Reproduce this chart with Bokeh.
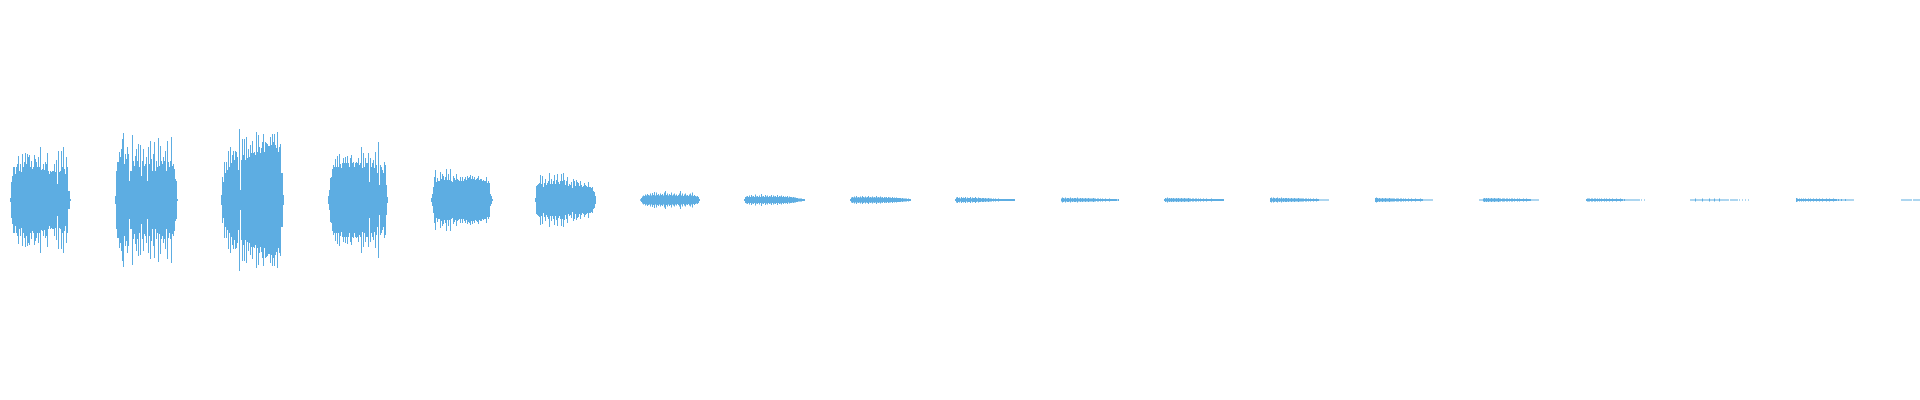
from bokeh.plotting import figure
from bokeh.models import Range1d, ColumnDataSource
from bokeh.embed import file_html
from bokeh.resources import INLINE

# onset (sample column) of each burst
burst_onsets = [2, 107, 213, 320, 423, 527, 632, 736, 842, 947, 1053, 1156, 1262, 1367, 1471, 1578, 1682, 1788, 1893]

# per-column peak amplitude of each burst
b1 = [2,18,24,33,33,26,33,36,44,29,36,28,46,33,38,47,36,46,43,45,33,39,31,33,45,41,38,33,43,33,53,30,31,36,30,38,36,47,29,26,29,28,29,29,36,28,40,16,49,28,29,49,33,53,31,26,43,33,9,9,1]
b2 = [4,29,38,38,48,43,51,61,67,36,46,41,53,46,19,29,29,65,39,34,44,51,39,56,33,55,24,39,51,34,36,43,19,53,36,59,41,29,46,58,29,39,33,62,34,54,39,36,43,39,49,29,59,38,33,39,63,34,36,31,21,19,1]
b3 = [5,23,18,38,27,38,30,49,33,53,37,45,49,40,49,48,43,30,71,10,40,61,45,61,40,63,42,51,43,55,47,59,47,48,45,68,48,65,53,47,52,58,66,48,58,57,56,54,54,63,55,66,58,66,55,52,68,48,53,56,27,27,5]
b4 = [4,10,22,23,31,35,33,41,33,44,33,46,36,32,37,42,37,43,37,44,37,33,42,45,37,38,33,37,38,37,42,35,37,53,32,47,33,42,37,37,47,18,42,33,37,40,32,48,35,27,58,15,35,33,30,27,38,35,15,3]
b5 = [2,6,13,23,30,18,22,19,19,28,21,26,24,20,23,31,20,26,20,31,19,18,24,22,20,26,21,20,19,23,19,23,19,21,23,20,24,22,23,25,21,24,21,23,20,21,22,24,20,21,21,19,20,19,19,23,17,19,17,6,4,1]
b6 = [2,14,15,16,17,25,16,24,13,17,21,15,17,19,27,16,21,16,19,25,16,20,26,18,16,19,26,19,27,20,15,19,23,14,16,15,18,12,21,19,14,20,18,17,14,19,15,13,14,17,15,14,13,18,13,13,12,13,9,8,4]
b7 = [0.7,2,3.5,4.5,4,5.5,4.5,6,5,4.5,6.5,4.5,7,5,8,4.5,7.5,5,6,4.5,6.5,5,6,4.5,7.5,9,5,6.5,4.5,6,5,7.5,4.5,5.5,6.5,4.5,5.5,4,5,6.5,9,4.5,6.5,4,5.5,6.5,4.5,5,4,5.5,6.5,4.5,7.5,4,5,4,3.5,4,3,1]
b8 = [1,3,3.5,4,3,4.5,3,5,3.5,4,3,5.5,3.5,4,3,4.5,3,6,3.5,4,3,5,3.5,4.5,3,4,3.5,5,3,4.5,3.5,4,3,5,3,4,3.5,4.5,3,4,3,3.5,3,4,2.5,3.5,3,3,2.5,3,2.5,2.5,2,2,1.5,1.5,1.5,1.5,1,1,1]
b9 = [1,2.5,3,2.5,3.5,2.5,4,2.5,3,2.5,3.5,2.5,4,3,2.5,3.5,2.5,3,4,2.5,3,2.5,3.5,2.5,3,2.5,4,2.5,3,2.5,3.5,2.5,3,2,3,2.5,3,2,3,2.5,2.5,2,3,2,2.5,2,2.5,2,2,2,2,1.5,2,1.5,1.5,1.5,1.5,1,1.5,1,1]
b10 = [1,2.5,3,2,2.5,1.5,3,2,2.5,2,3,1.5,2.5,2,2,3,1.5,2.5,2,2,3,2,1.5,2.5,2,2,1.5,2,2,1.5,2,1.5,1.5,2,1.5,1.5,1.5,1,1.5,1,1.5,1,1,1.5,1,1,1,1,1,1,1,1,1,1,1,1,1,1,1,1]
b11 = [1.5,2.5,2,1.5,2.5,1.5,2,2,1.5,2.5,1.5,2,1.5,2,2,1.5,2.5,1.5,1.5,2,1.5,2,1.5,1.5,2,1.5,1.5,2,1.5,1.5,1.5,1.5,2,1.5,1.5,1,1.5,1.5,1,1.5,1,1.5,1,1,1.5,1,1,1,1.5,1,1,1,1,1,1,1,0.5,1]
b12 = [1,2,1.5,2.5,1.5,2,1.5,2,1.5,2,1.5,1.5,2,1.5,2,1.5,1.5,2,1.5,1.5,2,1.5,1.5,1.5,2,1.5,1.5,1,1.5,1.5,1,1.5,1.5,1,1.5,1,1.5,1,1,1.5,1,1,1.5,1,1,1,1,1.5,1,1,1,1,1,1,1,1,1,1,1,1]
b13 = [2,2.5,1.5,2.5,2,1.5,2,2.5,1.5,2,1.5,2.5,1.5,2,1.5,2,2,1.5,2,1.5,1.5,2,1.5,1.5,2,1.5,1.5,1.5,2,1.5,1.5,1.5,1.5,1.5,1,1.5,1.5,1,1.5,1,1.5,1,1,1.5,1,1,1.5,1,1,0.5,0.5,0.5,0.5,0.5,0.5,0.5,0.5,0.5,0.5]
b14 = [2,2.5,2,1.5,2,1.5,1.5,2,1.5,1.5,2,1.5,1.5,1.5,2,1.5,1.5,1.5,1.5,1.5,1,1.5,1.5,1.5,1,1.5,1.5,1,1.5,1,1.5,1,1,1.5,1,1,1.5,1,1,1,1.5,1,1,1,1,1.5,1,1,0.5,0.5,0.5,0.5,0.5,0.5,0.5,0.5,0.5,0.5]
b15 = [0.5,0.5,0.5,0.5,1.5,2,1.5,2,1.5,2,1.5,1.5,2,1.5,1.5,2,1.5,1.5,1.5,2,1.5,1.5,1,1.5,1.5,1.5,1,1.5,1.5,1,1.5,1,1.5,1.5,1,1.5,1,1,1.5,1,1.5,1,1,1,1.5,1,1,1.5,1,1,1,1,0.5,0.5,0.5,0.5,0.5,0.5,0.5,0.5]
b16 = [1,1.5,1.5,1.5,1,1.5,1.5,1,1.5,1.5,1,1.5,1,1.5,1,1.5,1,1,1.5,1,1.5,1,1,1.5,1,1,1.5,1,1,1,1.5,1,1,1,1.5,1,1,0.5,1,0.5,0.5,0.5,0.5,0.5,0.5,0.5,0.5,0.5,0.5,0.5,0.5,0.5,0.5,0.5,0,0.5,0,0,0.5,0]
b17 = [0.5,0.5,0.5,0.5,0.5,1.5,0.5,0.5,0.5,0.5,0.5,0.5,1.5,0.5,0.5,0.5,0.5,0.5,0.5,1.5,0.5,0.5,0.5,0.5,1.5,0.5,0.5,0.5,0.5,1.5,0.5,0.5,0.5,0.5,0.5,0.5,0.5,0.5,0.5,0,0.5,0.5,0.5,0.5,0.5,0.5,0.5,0.5,0,0.5,0,0,0.5,0,0,0.5,0,0,0.5,0]
b18 = [2,1.5,1,1.5,1,1.5,1,1.5,1,1.5,1,1,1.5,1,1.5,1,1,1.5,1,1,1.5,1,1,1.5,1,1,1.5,1,1,1,1.5,1,1,1.5,1,1,1,1.5,1,1,1,0.5,1,0.5,0.5,1,0.5,0.5,0.5,1,0.5,0.5,0.5,0.5,0.5,0.5,0.5,0.5]
b19 = [0.5,0.5,0.5,0.5,0.5,0.5,0.5,0.5,0.5,0.5,0.5,0,0.5,0.5,0.5,0.5,0.5,0.5,0.5,0.5]

bursts = [b1, b2, b3, b4, b5, b6, b7, b8, b9, b10, b11, b12, b13, b14, b15, b16, b17, b18, b19]

# one step-shaped polygon per contiguous run of non-zero columns
xs_list, ys_list = [], []
for onset, amps in zip(burst_onsets, bursts):
    run = []
    for j, a in enumerate(amps + [0]):
        if a > 0:
            run.append((onset + j, a))
            continue
        if run:
            top_x, top_y = [], []
            for x0, amp in run:
                top_x += [x0, x0 + 1]
                top_y += [amp, amp]
            xs_list.append(top_x + top_x[::-1])
            ys_list.append(top_y + [-v for v in top_y[::-1]])
            run = []

src = ColumnDataSource(dict(xs=xs_list, ys=ys_list))

p = figure(width=1920, height=400, output_backend="svg", toolbar_location=None,
           x_range=Range1d(-7.5, 1912.5), y_range=Range1d(-200.5, 199.5),
           min_border=0)
p.axis.visible = False
p.grid.visible = False
p.outline_line_color = None
p.background_fill_color = "white"
p.border_fill_color = "white"

p.patches(xs="xs", ys="ys", source=src,
          fill_color="#5DADE2", fill_alpha=1.0, line_color=None)

open("out.html", "w").write(file_html(p, INLINE))
